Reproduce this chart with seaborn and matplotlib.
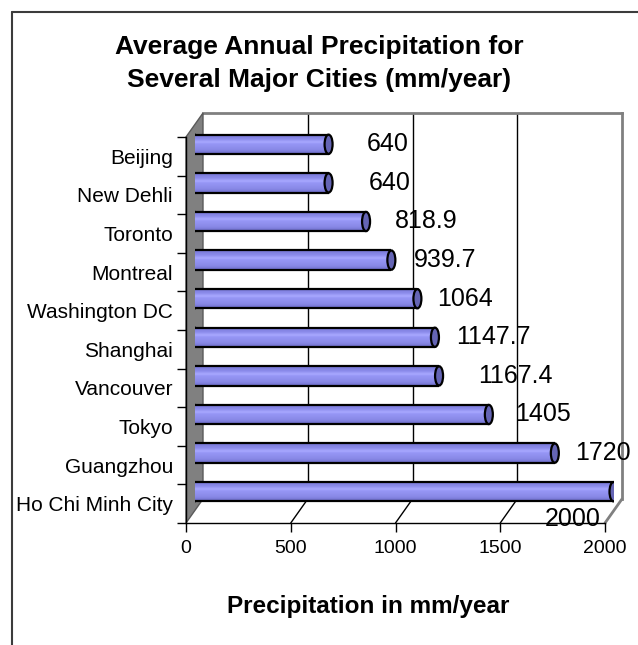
import matplotlib
matplotlib.use("Agg")
import numpy as np
import pandas as pd
import matplotlib.pyplot as plt
import seaborn as sns
from matplotlib.patches import Ellipse, Polygon
from matplotlib.lines import Line2D
from matplotlib.transforms import IdentityTransform
from matplotlib.colors import LinearSegmentedColormap

# ---------------- data ----------------
cities = ["Beijing", "New Dehli", "Toronto", "Montreal", "Washington DC",
          "Shanghai", "Vancouver", "Tokyo", "Guangzhou", "Ho Chi Minh City"]
precip = [640, 640, 818.9, 939.7, 1064, 1147.7, 1167.4, 1405, 1720, 2000]
value_text = ["640", "640", "818.9", "939.7", "1064", "1147.7", "1167.4",
              "1405", "1720", "2000"]
x_ticks = [0, 500, 1000, 1500, 2000]
title_lines = ["Average Annual Precipitation for", "Several Major Cities (mm/year)"]
xlabel = "Precipitation in mm/year"

# label nudges in pixels (Excel's 3-D label placement)
label_dx = [38, 40, 29, 23, 20, 21, 39, 26, 20, -69]
label_dy = [0, 0, 0, 0, 0, 0, 0, 0, 0, 27]

# ---------------- style ----------------
W, H, DPI = 638, 645, 100
sns.set_theme(style="white")
plt.rcParams["font.family"] = ["Liberation Sans", "DejaVu Sans"]
plt.rcParams["text.color"] = "black"
plt.rcParams["axes.labelcolor"] = "black"
plt.rcParams["xtick.color"] = "black"
plt.rcParams["ytick.color"] = "black"

BAR = "#9393F2"
CAP = "#6464B4"
WALL = "#808080"

fig = plt.figure(figsize=(W / DPI, H / DPI), dpi=DPI)
fig.patch.set_facecolor("white")


def rect(x0, y0, x1, y1):
    return [x0 / W, 1 - y1 / H, (x1 - x0) / W, (y1 - y0) / H]


DX, DY = 17, 24
FX0, FY0, FX1, FY1 = 186, 137, 605, 523  # front plane in pixels
ax_back = fig.add_axes(rect(FX0 + DX, FY0 - DY, FX1 + DX, FY1 - DY), zorder=0)
ax_mid = fig.add_axes(rect(FX0 + DX / 2, FY0 - DY / 2, FX1 + DX / 2, FY1 - DY / 2), zorder=2)
ax_front = fig.add_axes(rect(FX0, FY0, FX1, FY1), zorder=3)

n = len(cities)
xmax = x_ticks[-1]

# ---------------- back wall ----------------
ax_back.set_facecolor("white")
ax_back.set_xlim(0, xmax)
ax_back.set_ylim(0, 1)
ax_back.set_xticks(x_ticks[1:-1])
ax_back.set_yticks([])
ax_back.tick_params(length=0, labelbottom=False, labelleft=False)
ax_back.grid(axis="x", color="black", lw=1)
for s in ["left", "bottom"]:
    ax_back.spines[s].set_visible(False)
for s in ["top", "right"]:
    ax_back.spines[s].set_color(WALL)
    ax_back.spines[s].set_linewidth(2)

# ---------------- bars (mid depth) ----------------
df = pd.DataFrame({"city": cities, "precip": precip})
sns.barplot(data=df, x="precip", y="city", orient="h", color=BAR,
            width=0.5, saturation=1, ax=ax_mid)
ax_mid.set_xlim(0, xmax)
ax_mid.set_ylim(n - 0.5, -0.5)
ax_mid.axis("off")

px = xmax / (FX1 - FX0)          # data units per pixel
capw = 8 * px
grad_cmap = LinearSegmentedColormap.from_list(
    "cyl", [(0.0, "#7777D4"), (0.25, "#8C8CEC"), (0.40, "#A9A9FF"),
            (0.48, "#9797F6"), (0.80, "#8888E6"), (1.0, "#6B6BC8")])
grad = np.linspace(0, 1, 64).reshape(-1, 1)

for p in list(ax_mid.patches):
    x0 = p.get_x()
    w = p.get_width()
    y = p.get_y()
    h = p.get_height()
    yc = y + h / 2
    p.set_edgecolor("none")
    p.set_zorder(2)
    # left rounded end
    ax_mid.add_patch(Ellipse((x0, yc), capw, h, facecolor="#8585E2",
                             edgecolor="black", lw=1.6, zorder=1.9))
    # shaded body
    im = ax_mid.imshow(grad, cmap=grad_cmap, aspect="auto",
                       extent=(x0, x0 + w, y + h, y), origin="upper",
                       zorder=2.1, interpolation="bilinear")
    im.set_clip_path(p)
    ax_mid.plot([x0, x0 + w], [y, y], color="black", lw=1.6, zorder=2.2,
                solid_capstyle="butt")
    ax_mid.plot([x0, x0 + w], [y + h, y + h], color="black", lw=1.6, zorder=2.2,
                solid_capstyle="butt")
    # end cap
    ax_mid.add_patch(Ellipse((x0 + w, yc), capw, h, facecolor=CAP,
                             edgecolor="black", lw=1.6, zorder=2.3))

ax_mid.set_xlim(0, xmax)
ax_mid.set_ylim(n - 0.5, -0.5)

for i, (v, t) in enumerate(zip(precip, value_text)):
    ax_mid.annotate(t, xy=(v, i), xytext=(label_dx[i] * 0.72, -label_dy[i] * 0.72),
                    textcoords="offset points", ha="left", va="center",
                    fontsize=18, color="black", zorder=5)

# ---------------- front axes ----------------
ax_front.set_facecolor("none")
ax_front.set_xlim(0, xmax)
ax_front.set_ylim(n, 0)
ax_front.set_xticks(x_ticks)
ax_front.set_xticklabels([str(t) for t in x_ticks])
ax_front.set_yticks(range(n + 1))
ax_front.set_yticklabels([])
ax_front.set_yticks(np.arange(n) + 0.5, minor=True)
ax_front.set_yticklabels(cities, minor=True)
ax_front.tick_params(axis="y", which="major", left=True, length=6.5, width=1,
                     color="black", direction="out")
ax_front.tick_params(axis="y", which="minor", left=True, length=0, pad=9.4,
                     labelsize=15, labelcolor="black")
ax_front.tick_params(axis="x", bottom=True, length=6.5, width=1, color="black",
                     direction="out", pad=6, labelsize=14, labelcolor="black")
for s in ["top", "right"]:
    ax_front.spines[s].set_visible(False)
for s in ["left", "bottom"]:
    ax_front.spines[s].set_color("black")
    ax_front.spines[s].set_linewidth(1)


# ---------------- side wall and floor ----------------
def disp(ax, x, y):
    return ax.transData.transform((x, y))


wall = [disp(ax_front, 0, 0), disp(ax_back, 0, 1), disp(ax_back, 0, 0), disp(ax_front, 0, n)]
fig.add_artist(Polygon(wall, closed=True, facecolor=WALL, edgecolor="#5a5a5a",
                       lw=1, transform=IdentityTransform(), zorder=1))
for t in x_ticks[1:]:
    p0 = disp(ax_back, t, 0)
    p1 = disp(ax_front, t, n)
    last = t == x_ticks[-1]
    fig.add_artist(Line2D([p0[0], p1[0]], [p0[1], p1[1]],
                          color=WALL if last else "black", lw=2 if last else 1,
                          transform=IdentityTransform(), zorder=1))

# ---------------- texts ----------------
fig.text(0.5, 1 - 47 / H, title_lines[0], ha="center", va="center",
         fontsize=19, fontweight="bold", color="black")
fig.text(0.5, 1 - 80 / H, title_lines[1], ha="center", va="center",
         fontsize=19, fontweight="bold", color="black")
fig.text(368 / W, 1 - 607 / H, xlabel, ha="center", va="center",
         fontsize=17.5, fontweight="bold", color="black")

# chart-area border (extends past right/bottom edges)
fig.add_artist(Line2D([12 / W, 12 / W], [1 - 12 / H, 0], color="#3c3c3c", lw=1.5,
                      transform=fig.transFigure))
fig.add_artist(Line2D([12 / W, 1], [1 - 12 / H, 1 - 12 / H], color="#3c3c3c", lw=1.5,
                      transform=fig.transFigure))

fig.savefig("out.png", dpi=DPI, facecolor="white")
